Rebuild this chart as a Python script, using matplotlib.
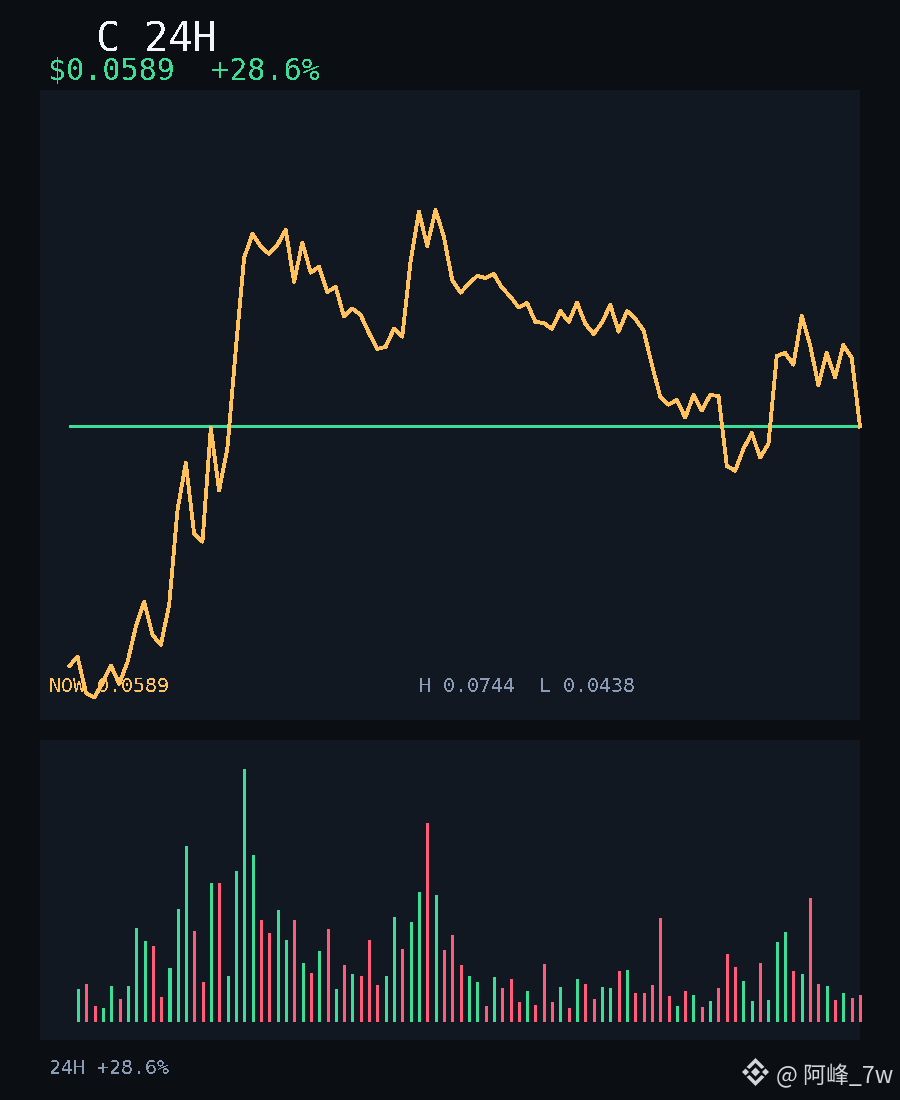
import numpy as np
import matplotlib.pyplot as plt
from matplotlib.patches import Polygon

# 24h closes (96 points)
closes = [0.04536, 0.04581, 0.04405, 0.04383, 0.04453, 0.04538, 0.04449, 0.04556,
          0.04735, 0.04865, 0.04692, 0.04641, 0.04848, 0.05376, 0.05657, 0.05237,
          0.05193, 0.05877, 0.05490, 0.05751, 0.06398, 0.07071, 0.07258, 0.07159,
          0.07102, 0.07172, 0.07290, 0.06891, 0.07190, 0.06959, 0.07003, 0.06815,
          0.06852, 0.06634, 0.06692, 0.06646, 0.06517, 0.06405, 0.06419, 0.06546,
          0.06491, 0.07043, 0.07437, 0.07164, 0.07450, 0.07237, 0.06904, 0.06809,
          0.06874, 0.06934, 0.06919, 0.06949, 0.06844, 0.06780, 0.06699, 0.06733,
          0.06596, 0.06588, 0.06546, 0.06675, 0.06596, 0.06736, 0.06581, 0.06510,
          0.06591, 0.06719, 0.06526, 0.06675, 0.06617, 0.06534, 0.06294, 0.06081,
          0.06028, 0.06059, 0.05943, 0.06092, 0.05989, 0.06092, 0.06085, 0.05639,
          0.05610, 0.05745, 0.05845, 0.05690, 0.05776, 0.06356, 0.06377, 0.06296,
          0.06639, 0.06432, 0.06159, 0.06377, 0.06208, 0.06432, 0.06342, 0.05886]
last_price = 0.0589

# volume bars, no value is labelled so the unit is arbitrary (95 bars)
volumes = [33, 38, 16, 14, 36, 23, 36, 94, 81, 76, 25, 54, 113, 176, 91, 40,
           139, 139, 46, 151, 253, 167, 102, 89, 112, 82, 102, 59, 49, 71, 93, 33,
           57, 48, 46, 82, 37, 46, 105, 73, 100, 130, 199, 127, 72, 87, 57, 46,
           40, 16, 45, 34, 43, 20, 31, 17, 58, 20, 35, 14, 43, 38, 23, 35,
           34, 51, 52, 29, 29, 37, 104, 26, 16, 31, 27, 15, 21, 34, 68, 55,
           41, 21, 59, 22, 80, 90, 51, 48, 124, 38, 36, 22, 29, 24, 27]

BG = '#0b0f14'
PANEL = '#111822'
GREEN = '#3ddc97'
RED = '#ff5c7a'
ORANGE = '#ffc25c'
MUTED = '#8a9bb5'
WHITE = '#f2f5f9'
W, H = 900, 1100

plt.rcParams['font.family'] = ['DejaVu Sans Mono', 'Noto Sans CJK SC']
plt.rcParams['text.antialiased'] = False


def px_text(x, y, s, size, color, **kw):
    fig.text(x / W, 1 - y / H, s, fontsize=size * 0.72, color=color, va='baseline', **kw)


def panel(top, bottom):
    ax = fig.add_axes([40 / W, 1 - bottom / H, 820 / W, (bottom - top) / H])
    ax.set_facecolor(PANEL)
    for s in ax.spines.values():
        s.set_visible(False)
    return ax


fig = plt.figure(figsize=(9, 11), dpi=100, facecolor=BG)

ax1 = panel(90, 720)
ax1.set_yscale('log')
idx = np.arange(len(closes))
ax1.plot([idx[0], idx[-1]], [last_price, last_price], color=GREEN, lw=2.16,
         solid_capstyle='butt', antialiased=False, zorder=2)
ax1.plot(idx, closes, color=ORANGE, lw=2.0, antialiased=False, clip_on=False,
         solid_joinstyle='round', zorder=3)
ax1.set_xlim(-3.52, 95)
ax1.set_ylim(0.04277, 0.08489)
ax1.tick_params(which='both', left=False, bottom=False, labelleft=False, labelbottom=False)

ax2 = panel(740, 1040)
vol_x = idx[1:]
colors = [GREEN if closes[i] >= closes[i - 1] else RED for i in vol_x]
ax2.bar(vol_x, volumes, width=0.3612, color=colors, antialiased=False, clip_on=False)
ax2.set_xlim(-3.63, 94.96)
ax2.set_ylim(-18, 282)
ax2.tick_params(which='both', left=False, bottom=False, labelleft=False, labelbottom=False)

px_text(96, 52, 'C 24H', 40, WHITE)
px_text(48, 79, '$0.0589  +28.6%', 30, GREEN)
px_text(49, 692, 'NOW 0.0589', 20, ORANGE, zorder=1)
px_text(419, 692, 'H 0.0744  L 0.0438', 20, MUTED)
px_text(49, 1074, '24H +28.6%', 20, MUTED)

# watermark, the logo is just five little polygons in pixel space
logo = fig.add_axes([0, 0, 1, 1], facecolor='none')
logo.set_xlim(0, W)
logo.set_ylim(H, 0)
logo.set_axis_off()
cx, cy = 755.5, 1072
GREY = '#d2d5d9'
for dx, dy, r in [(0, 0, 4.5), (-10, 0, 3.5), (10, 0, 3.5)]:
    logo.add_patch(Polygon([(cx + dx - r, cy + dy), (cx + dx, cy + dy - r), (cx + dx + r, cy + dy),
                            (cx + dx, cy + dy + r)], color=GREY, lw=0))
for sgn in (-1, 1):
    logo.add_patch(Polygon([(cx - 9, cy + sgn * 5), (cx, cy + sgn * 14), (cx + 9, cy + sgn * 5),
                            (cx + 6, cy + sgn * 3), (cx, cy + sgn * 9), (cx - 6, cy + sgn * 3)],
                           color=GREY, lw=0))
fig.text(776 / W, 1 - 1083 / H, '@ 阿峰_7w', fontsize=16.6, color=GREY, va='baseline',
         family=['Noto Sans CJK SC', 'DejaVu Sans'], antialiased=True)

fig.savefig('out.png', dpi=100, facecolor=BG)
